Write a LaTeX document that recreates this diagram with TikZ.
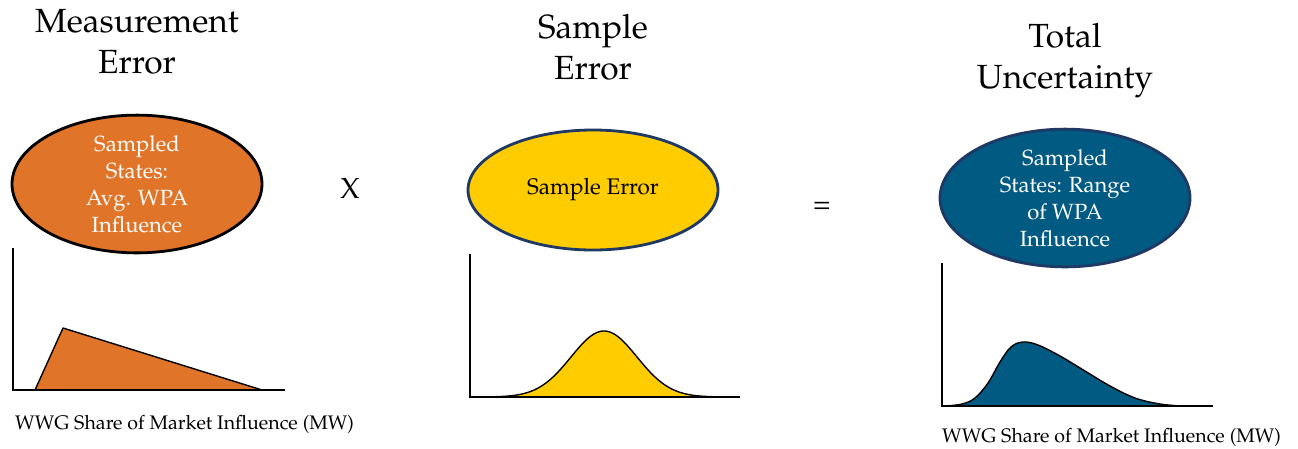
\documentclass[tikz,border=0pt]{standalone}
\usepackage[T1]{fontenc}
\usepackage{mathpazo}
\usetikzlibrary{shapes.geometric}
\definecolor{orangeF}{HTML}{E07428}
\definecolor{yellowF}{HTML}{FFCC00}
\definecolor{blueF}{HTML}{005A82}
\definecolor{navyB}{HTML}{1F3864}
\tikzset{
  title/.style={align=center,font=\fontsize{33.5}{41}\selectfont},
  bubble/.style={ellipse,line width=2.8pt,align=center,inner sep=0pt,font=\fontsize{22}{27}\selectfont},
  axis/.style={line width=1.1pt,black},
  curve/.style={line width=1.4pt,black},
  xlabel/.style={anchor=west,font=\fontsize{19.6}{22}\selectfont,inner sep=0pt},
  op/.style={font=\fontsize{29}{30}\selectfont}
}
\begin{document}
\begin{tikzpicture}[x=1pt,y=-1pt]
\useasboundingbox (0,0) rectangle (1298,448);
% titles
\node[title] (t1) at (137,42) {Measurement\\Error};
\node[title] (t2) at (593,47) {Sample\\Error};
\node[title] (t3) at (1065,61) {Total\\Uncertainty};
% ellipses
\node[bubble,draw=black,fill=orangeF,text=white,minimum width=250pt,minimum height=128pt] (e1) at (137,184) {Sampled\\States:\\Avg. WPA\\Influence};
\node[bubble,draw=navyB,fill=yellowF,text=black,minimum width=250pt,minimum height=120pt,font=\fontsize{22.5}{24}\selectfont] (e2) at (593,190) {Sample Error};
\node[bubble,draw=navyB,fill=blueF,text=white,minimum width=250pt,minimum height=120pt] (e3) at (1065,198) {Sampled\\States: Range\\of WPA\\Influence};
% operators
\node[op] (x) at (350,188) {X};
\node[op] (eq) at (822,208) {=};
% plot 1
\coordinate (o1) at (13,390);
\draw[curve,fill=orangeF,line join=round] (35,390) -- (63,328) -- (262,390) -- cycle;
\draw[axis] (13,248) -- (o1) -- (285,390);
\node[xlabel] (l1) at (15,424) {WWG Share of Market Influence (MW)};
% plot 2
\coordinate (o2) at (470,397);
\draw[curve,fill=yellowF,domain=490:722,samples=120,smooth] plot (\x,{397-66*exp(-((\x-604)/33)^2/2)});
\draw[axis] (470,254) -- (o2) -- (740,397);
% plot 3
\coordinate (o3) at (942,406);
\draw[curve,fill=blueF] plot[smooth,tension=0.6] coordinates {(945,406) (962,404) (975,398) (988,383) (1000,362) (1011,347) (1023,342) (1038,345) (1060,356) (1085,371) (1110,386) (1135,398) (1160,404) (1182,406)} -- cycle;
\draw[axis] (942,263) -- (o3) -- (1213,406);
\node[xlabel] (l3) at (942,437) {WWG Share of Market Influence (MW)};
\end{tikzpicture}
\end{document}
